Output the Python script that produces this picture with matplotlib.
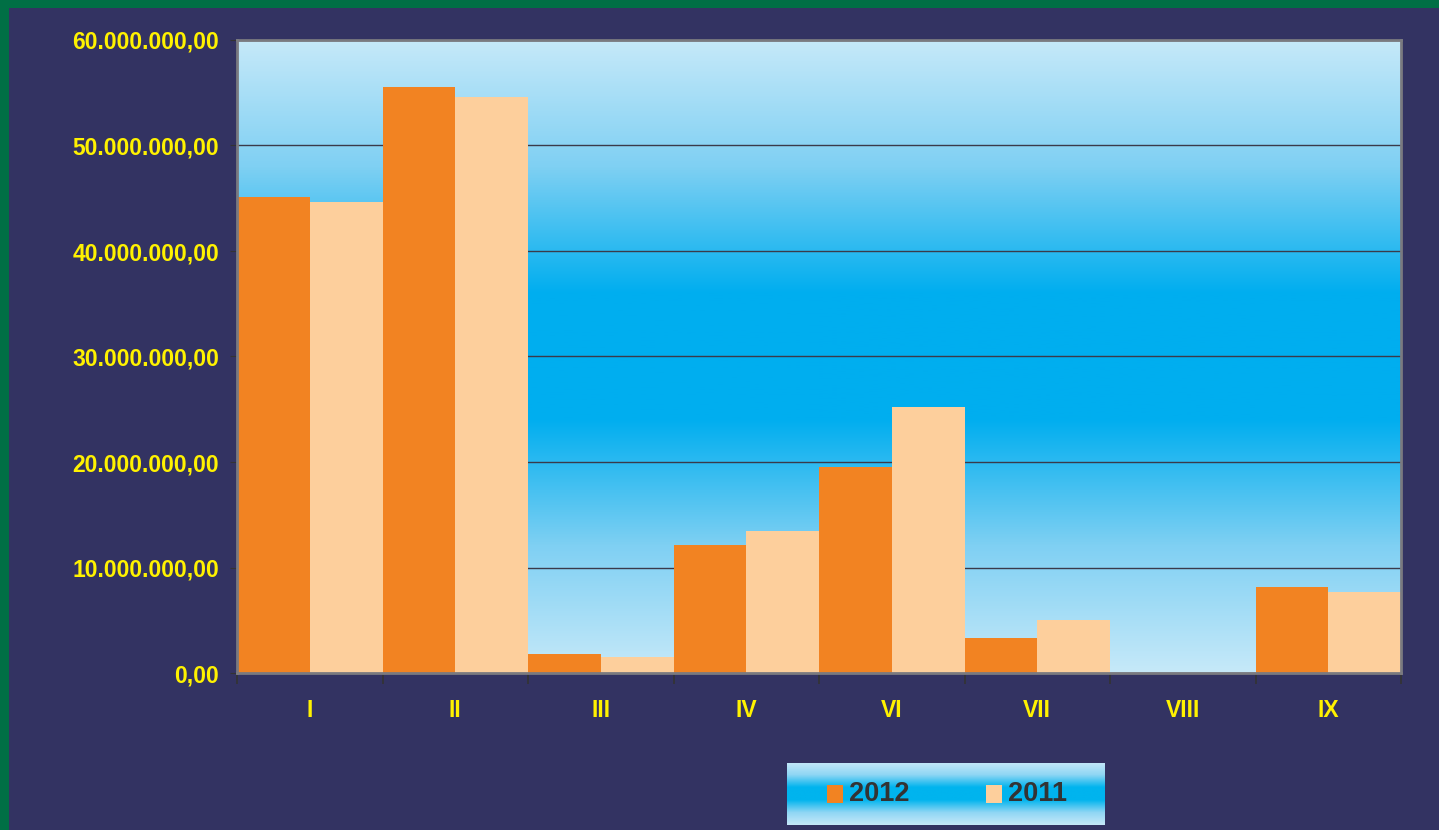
import matplotlib
matplotlib.use("Agg")
import matplotlib.pyplot as plt
import numpy as np
from matplotlib.colors import LinearSegmentedColormap
from matplotlib.patches import Rectangle

categories = ["I", "II", "III", "IV", "VI", "VII", "VIII", "IX"]
values_2012 = [45100000, 55500000, 1800000, 12100000, 19500000, 3300000, 0, 8150000]
values_2011 = [44600000, 54600000, 1500000, 13500000, 25200000, 5000000, 0, 7700000]
series_labels = ["2012", "2011"]
yticks = [0, 10000000, 20000000, 30000000, 40000000, 50000000, 60000000]

NAVY = "#333362"
GREEN = "#006F45"
ORANGE = "#F28322"
PEACH = "#FDCF9C"
YELLOW = "#FFF200"

W, H = 1439, 830
fig = plt.figure(figsize=(W / 100, H / 100), dpi=100)
fig.patch.set_facecolor(GREEN)
fig.patches.append(Rectangle((9 / W, 0), 1 - 9 / W, 1 - 8 / H, transform=fig.transFigure,
                             facecolor=NAVY, edgecolor="none", zorder=-10))

cmap = LinearSegmentedColormap.from_list("bg", ["#C6E9F9", "#7FD0F3", "#00AEEF", "#00AEEF", "#7FD0F3", "#C6E9F9"])

left, right, top, bottom = 237, 1401, 40, 673
ax = fig.add_axes([left / W, 1 - bottom / H, (right - left) / W, (bottom - top) / H])
ax.set_facecolor("none")
grad = np.linspace(0, 1, 256).reshape(-1, 1)
ax.imshow(grad, extent=[0, 1, 0, 1], transform=ax.transAxes, aspect="auto", cmap=cmap, zorder=0)

x = np.arange(len(categories))
bw = 0.5
ax.bar(x - bw / 2, values_2012, width=bw, color=ORANGE, zorder=3, label=series_labels[0])
ax.bar(x + bw / 2, values_2011, width=bw, color=PEACH, zorder=3, label=series_labels[1])

ax.set_xlim(-0.5, len(categories) - 0.5)
ax.set_ylim(0, 60000000)
ax.set_yticks(yticks)
ax.set_yticklabels([f"{v:,.2f}".replace(",", "X").replace(".", ",").replace("X", ".") for v in yticks],
                   color=YELLOW, fontsize=16.5, fontweight="bold", fontfamily="Liberation Sans")
ax.set_xticks(x)
ax.set_xticklabels(categories, color=YELLOW, fontsize=16.5, fontweight="bold", fontfamily="Liberation Sans")
ax.tick_params(axis="x", length=0, pad=19)
ax.tick_params(axis="y", length=5, color="#333333", pad=8)
# minor ticks at category boundaries
ax.set_xticks(np.arange(-0.5, len(categories)), minor=True)
ax.tick_params(axis="x", which="minor", length=8, color="#333333", width=1.2)
ax.yaxis.grid(True, color="#3a3a4a", linewidth=1, zorder=1)
ax.set_axisbelow(False)
for s in ax.spines.values():
    s.set_color("#7a7a80")
    s.set_linewidth(2)
    s.set_zorder(4)

# legend box
lx0, lx1, ly0, ly1 = 787, 1105, 763, 825
lax = fig.add_axes([lx0 / W, 1 - ly1 / H, (lx1 - lx0) / W, (ly1 - ly0) / H])
lcmap = LinearSegmentedColormap.from_list("lg", ["#C6E9F9", "#8FD6F4", "#00B4EE", "#00B4EE", "#8FD6F4", "#C6E9F9"])
lax.imshow(grad, extent=[0, 1, 0, 1], aspect="auto", cmap=lcmap)
lax.set_xlim(0, 1)
lax.set_ylim(0, 1)
lax.set_xticks([])
lax.set_yticks([])
for s in lax.spines.values():
    s.set_visible(False)
for xs, col, lab in [(40 / 318, ORANGE, series_labels[0]), (199 / 318, PEACH, series_labels[1])]:
    lax.add_patch(Rectangle((xs, 22 / 62), 16 / 318, 18 / 62, facecolor=col, edgecolor="none"))
    lax.text(xs + 22 / 318, 0.5, lab, fontsize=19.5, fontweight="bold", color="#333333",
             va="center", ha="left", fontfamily="Liberation Sans")

fig.savefig("out.png", dpi=100, facecolor=fig.get_facecolor())
